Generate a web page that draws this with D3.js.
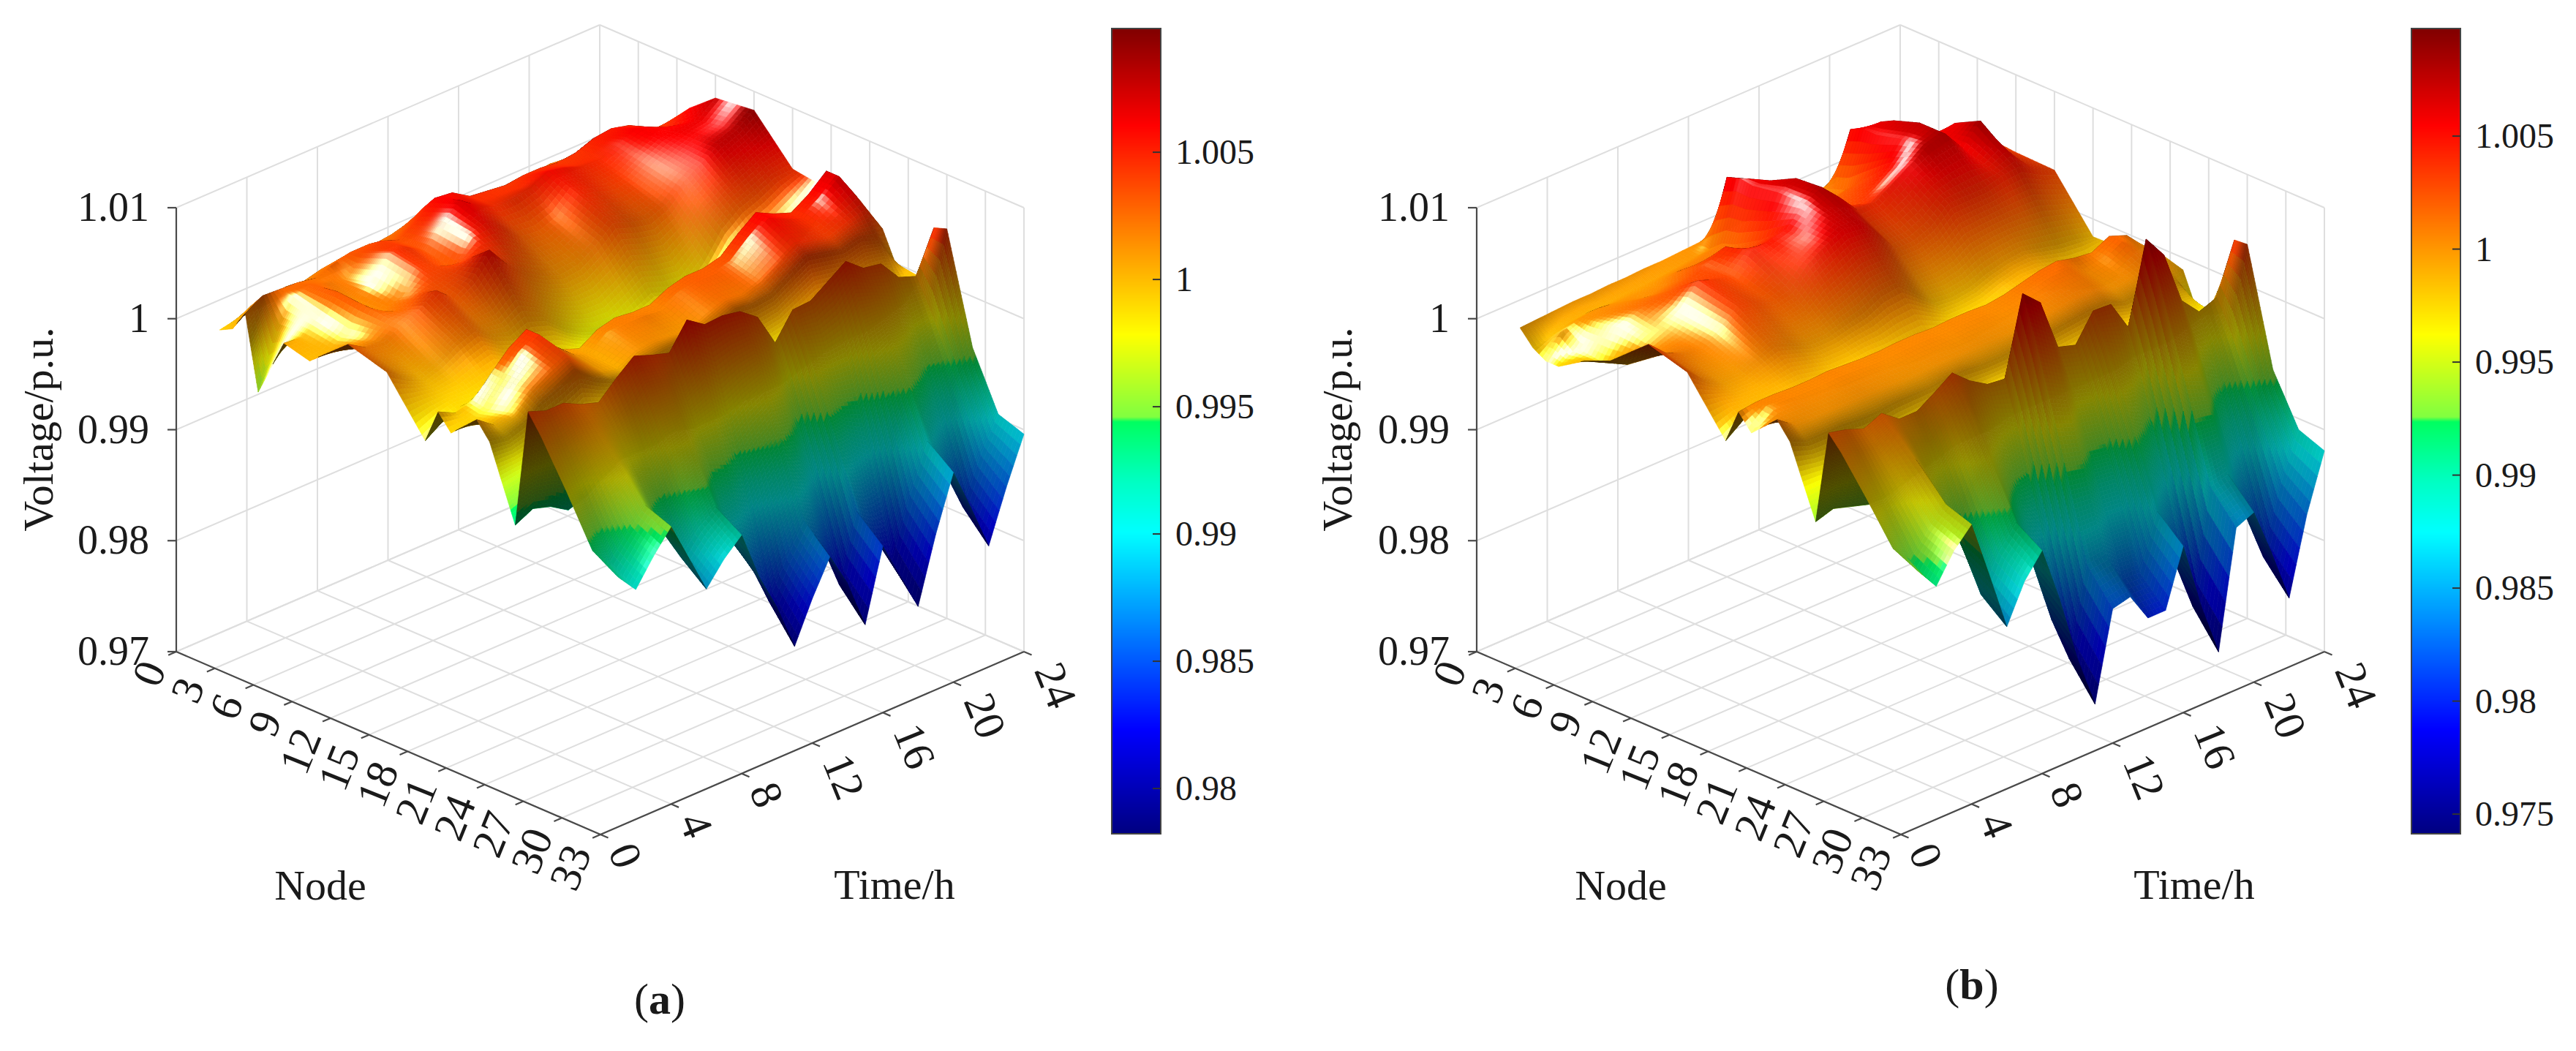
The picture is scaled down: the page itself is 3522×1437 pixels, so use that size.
<!DOCTYPE html>
<html>
<head>
<meta charset="utf-8">
<script src="https://d3js.org/d3.v7.min.js"></script>
<style>
  html, body { margin: 0; background: #fff; }
  text { font-family: "Liberation Serif", serif; fill: #1a1a1a; }
</style>
</head>
<body>
<div id="chart"></div>
<script>
// Axis values
const nodeTicks = [0, 3, 6, 9, 12, 15, 18, 21, 24, 27, 30, 33];
const timeTicks = [0, 4, 8, 12, 16, 20, 24];
const voltTicks = [0.97, 0.98, 0.99, 1, 1.01];
const nodes = [2, 3, 4, 5, 7, 9, 12, 15, 18, 19, 20, 22, 23, 25, 26, 27, 29, 31, 33];
const hours = d3.range(1, 25);

// Colour bars
const barTicksA = [0.98, 0.985, 0.99, 0.995, 1, 1.005];
const barTicksB = [0.975, 0.98, 0.985, 0.99, 0.995, 1, 1.005];
const barRangeA = [0.97822, 1.00986];
const barRangeB = [0.97413, 1.00976];

// Voltage (p.u. x 10000), one row per node, one column per hour
const voltA = [
  [9993, 9996, 9997, 9998, 9999, 9999, 10000, 10000, 10000, 10001, 10001, 10001, 10001, 10001, 10000, 10000, 10000, 10000, 9999, 9999, 9999, 9999, 9998, 9998],
  [9999, 10012, 10014, 10016, 10014, 10018, 10020, 10018, 10020, 10022, 10026, 10024, 10020, 10018, 10016, 10018, 10020, 10022, 10024, 10022, 10020, 10016, 10006, 10000],
  [10018, 10027, 10026, 10025, 10022, 10028, 10032, 10032, 10025, 10032, 10043, 10040, 10034, 10032, 10030, 10028, 10030, 10032, 10030, 10034, 10036, 10030, 10015, 10020],
  [9952, 10000, 10024, 10028, 10022, 10020, 10036, 10040, 10034, 10044, 10058, 10056, 10046, 10044, 10042, 10044, 10044, 10042, 10044, 10050, 10052, 10048, 10035, 10035],
  [10006, 10004, 10016, 10032, 10014, 10026, 10046, 10044, 10034, 10054, 10066, 10054, 10046, 10046, 10050, 10058, 10054, 10048, 10048, 10056, 10062, 10056, 10050, 10060],
  [10000, 10002, 10010, 10030, 10016, 10022, 10042, 10038, 10030, 10052, 10056, 10044, 10030, 10028, 10034, 10050, 10046, 10040, 10042, 10052, 10060, 10064, 10066, 10079],
  [10030, 10020, 10018, 10026, 10034, 10044, 10030, 10040, 10060, 10040, 10026, 10016, 10010, 10012, 10022, 10036, 10030, 10026, 10032, 10046, 10056, 10066, 10072, 10083],
  [10020, 10008, 10000, 10006, 10016, 10022, 10010, 10004, 10010, 10004, 9990, 9980, 9974, 9972, 9980, 9988, 9982, 9980, 9995, 10018, 10030, 10036, 10044, 10045],
  [9973, 9984, 9990, 9986, 9986, 9988, 9980, 9972, 9970, 9968, 9964, 9962, 9960, 9960, 9964, 9968, 9966, 9964, 9970, 9985, 9996, 10004, 10016, 10040],
  [10004, 9996, 10000, 10018, 10034, 10044, 10026, 10012, 10006, 10016, 10020, 10018, 10018, 10026, 10030, 10030, 10034, 10048, 10060, 10052, 10046, 10056, 10070, 10051],
  [9990, 9993, 9998, 10017, 10034, 10044, 10026, 10012, 10006, 10018, 10020, 10020, 10018, 10026, 10030, 10030, 10034, 10048, 10060, 10052, 10046, 10056, 10070, 10045],
  [10012, 10000, 10004, 10018, 10028, 10036, 10020, 10008, 10004, 10012, 10014, 10012, 10010, 10018, 10024, 10022, 10028, 10038, 10048, 10044, 10040, 10046, 10050, 10026],
  [9997, 9994, 10000, 10010, 10016, 10024, 10012, 10004, 10000, 10008, 10010, 10012, 10008, 10012, 10020, 10018, 10020, 10030, 10040, 10036, 10032, 10036, 10030, 10000],
  [9932, 9940, 9935, 9925, 9930, 9940, 9950, 9950, 9950, 9955, 9950, 9950, 9950, 9955, 9955, 9955, 9960, 9965, 9970, 9970, 9970, 9975, 9980, 9997],
  [10039, 10033, 10033, 10025, 10020, 10035, 10048, 10042, 10037, 10060, 10049, 10050, 10047, 10035, 10005, 10028, 10029, 10040, 10051, 10038, 10035, 10016, 10010, 10047],
  [10022, 10014, 10018, 10014, 10004, 10012, 10026, 10024, 10012, 10026, 10012, 10018, 10020, 10006, 9972, 10002, 9997, 10001, 10020, 10016, 10007, 9985, 9987, 10051],
  [9982, 9970, 9982, 9988, 9968, 9958, 9974, 9979, 9954, 9948, 9922, 9940, 9954, 9933, 9896, 9939, 9922, 9911, 9946, 9964, 9943, 9913, 9933, 9954],
  [9939, 9922, 9942, 9959, 9928, 9899, 9918, 9930, 9890, 9863, 9825, 9856, 9883, 9855, 9812, 9871, 9841, 9813, 9865, 9907, 9872, 9834, 9874, 9904],
  [9925, 9907, 9930, 9950, 9915, 9880, 9900, 9915, 9870, 9836, 9794, 9830, 9861, 9830, 9786, 9850, 9815, 9782, 9840, 9889, 9850, 9809, 9855, 9896],
];

const voltB = [
  [9995, 9996, 9997, 9998, 9998, 9999, 9999, 10000, 10000, 10001, 10002, 10003, 10003, 10003, 10002, 10002, 10002, 10003, 10003, 10003, 10002, 10001, 10000, 9999],
  [9982, 9985, 9990, 9992, 9992, 9994, 9995, 9996, 9998, 10000, 10002, 10060, 10050, 10030, 10012, 10010, 10006, 10008, 10055, 10050, 10020, 10010, 10005, 10010],
  [9975, 9995, 10000, 10002, 10000, 10000, 10000, 10004, 10006, 10008, 10012, 10064, 10056, 10040, 10020, 10012, 10010, 10012, 10060, 10060, 10034, 10020, 10010, 10015],
  [9975, 9985, 10002, 10006, 10006, 10003, 10006, 10014, 10012, 10012, 10016, 10062, 10060, 10046, 10026, 10016, 10020, 10024, 10060, 10066, 10044, 10036, 10025, 10025],
  [9990, 9982, 10006, 10014, 10018, 10020, 10024, 10030, 10038, 10024, 10030, 10066, 10072, 10056, 10036, 10026, 10034, 10046, 10066, 10074, 10056, 10060, 10036, 10032],
  [10000, 9990, 10002, 10010, 10020, 10038, 10032, 10028, 10044, 10046, 10050, 10066, 10074, 10058, 10040, 10040, 10050, 10060, 10070, 10074, 10054, 10072, 10040, 10030],
  [10030, 10015, 10008, 10006, 10016, 10030, 10026, 10020, 10024, 10040, 10050, 10058, 10056, 10040, 10020, 10020, 10026, 10040, 10040, 10040, 10044, 10046, 10036, 10029],
  [10020, 10005, 9996, 9996, 10002, 10008, 10002, 9996, 9996, 10000, 10004, 10012, 10014, 10000, 9986, 9984, 9986, 9992, 9996, 9998, 9994, 9990, 9988, 9984],
  [9973, 9985, 9986, 9984, 9982, 9980, 9978, 9976, 9976, 9976, 9972, 9970, 9970, 9968, 9968, 9972, 9974, 9980, 9984, 9980, 9972, 9966, 9966, 9985],
  [10004, 10006, 10006, 10005, 10005, 10006, 10005, 10004, 10004, 10005, 10005, 10004, 10005, 10005, 10004, 10006, 10010, 10014, 10016, 10012, 10010, 10018, 10012, 9995],
  [9990, 10006, 10006, 10005, 10005, 10006, 10005, 10004, 10004, 10005, 10005, 10004, 10005, 10005, 10004, 10006, 10010, 10014, 10014, 10004, 10008, 10018, 10006, 9996],
  [10012, 10000, 10000, 10000, 10000, 10000, 10000, 9999, 9999, 10000, 10000, 10000, 10000, 10000, 10000, 10002, 10004, 10006, 10006, 10000, 10002, 10006, 10000, 9989],
  [9997, 9990, 9990, 9990, 9988, 9988, 9990, 9990, 9990, 9992, 9992, 9990, 9990, 9992, 9992, 9994, 9996, 9998, 9998, 9992, 9994, 9996, 9990, 9960],
  [9935, 9940, 9935, 9930, 9930, 9935, 9940, 9945, 9950, 9950, 9950, 9955, 9955, 9955, 9955, 9955, 9955, 9955, 9960, 9960, 9960, 9965, 9970, 9965],
  [10020, 10016, 10010, 10017, 10005, 10005, 10015, 10026, 10012, 10002, 10000, 10070, 10055, 10008, 10003, 10027, 10026, 9998, 10071, 10050, 10002, 9985, 9991, 10036],
  [10007, 10001, 9999, 10007, 9990, 9982, 9996, 10008, 9990, 9971, 9961, 10033, 10021, 9977, 9972, 10001, 9991, 9960, 10037, 10020, 9973, 9951, 9967, 10037],
  [9975, 9963, 9972, 9985, 9952, 9925, 9947, 9963, 9931, 9896, 9871, 9945, 9940, 9903, 9901, 9938, 9908, 9869, 9958, 9951, 9906, 9873, 9910, 9934],
  [9941, 9923, 9944, 9960, 9913, 9865, 9896, 9916, 9869, 9815, 9773, 9851, 9853, 9824, 9823, 9871, 9818, 9772, 9873, 9877, 9833, 9789, 9849, 9890],
  [9930, 9910, 9935, 9952, 9900, 9846, 9880, 9901, 9850, 9790, 9742, 9821, 9825, 9799, 9799, 9850, 9790, 9741, 9846, 9853, 9810, 9762, 9830, 9881],
];

// Shared jet-like colour map (note the step just under the middle, as in the figure)
const jet = d3.scaleLinear()
  .domain([0, 0.13, 0.375, 0.44, 0.512, 0.518, 0.62, 0.75, 0.88, 1])
  .range(['#000080', '#0000ff', '#00ffff', '#00ffc0', '#00ff60', '#80ff40', '#ffff00', '#ff8000', '#ff0000', '#800000'])
  .clamp(true);

const norm3 = (v) => {
  const l = Math.hypot(v[0], v[1], v[2]) || 1;
  return [v[0] / l, v[1] / l, v[2] / l];
};
const dot3 = (a, b) => a[0] * b[0] + a[1] * b[1] + a[2] * b[2];

const svg = d3.select('#chart').append('svg')
  .attr('width', 3522)
  .attr('height', 1437)
  .style('display', 'block');

class SurfacePanel {
  constructor(_config, _data) {
    this.config = {
      originX: _config.originX,
      barX: _config.barX,
      barTicks: _config.barTicks,
      barRange: _config.barRange,
      yLabelX: _config.yLabelX,
      nodeLabelX: _config.nodeLabelX,
      timeLabelX: _config.timeLabelX,
      panelLabel: _config.panelLabel,
      panelLabelX: _config.panelLabelX,
      panelLabelY: _config.panelLabelY,
    };
    this.data = _data;
    this.initVis();
  }

  initVis() {
    const vis = this;
    vis.g = svg.append('g');

    // Axes of the box, all mapped to 0..1 and then to screen directions
    vis.nodeScale = d3.scaleLinear().domain([0, 33]).range([0, 1]);
    vis.timeScale = d3.scaleLinear().domain([0, 24]).range([0, 1]);
    vis.voltScale = d3.scaleLinear().domain([0.97, 1.01]).range([0, 1]);
    vis.barScale = d3.scaleLinear().domain(vis.config.barRange).range([1140, 39]);
    vis.colorFrac = d3.scaleLinear().domain(vis.config.barRange).range([0, 1]);

    vis.project = (n, t, v) => {
      const a = vis.nodeScale(n);
      const b = vis.timeScale(t);
      return [
        vis.config.originX + a * 580 + b * 579,
        891 + a * 250 - b * 250 - vis.voltScale(v) * 607,
      ];
    };

    vis.renderGrid();
    vis.renderSurface();
    vis.renderAxes();
    vis.renderBar();
  }

  renderGrid() {
    const vis = this;
    const segs = [];
    nodeTicks.forEach((n) => {
      segs.push([[n, 0, 0.97], [n, 24, 0.97]]);
      segs.push([[n, 24, 0.97], [n, 24, 1.01]]);
    });
    timeTicks.forEach((t) => {
      segs.push([[0, t, 0.97], [33, t, 0.97]]);
      if (t > 0) segs.push([[0, t, 0.97], [0, t, 1.01]]);
    });
    voltTicks.forEach((v) => {
      segs.push([[0, 0, v], [0, 24, v]]);
      segs.push([[0, 24, v], [33, 24, v]]);
    });
    vis.g.append('g').selectAll('line').data(segs).join('line')
      .attr('x1', (d) => vis.project(...d[0])[0])
      .attr('y1', (d) => vis.project(...d[0])[1])
      .attr('x2', (d) => vis.project(...d[1])[0])
      .attr('y2', (d) => vis.project(...d[1])[1])
      .attr('stroke', '#dedede')
      .attr('stroke-width', 2);
  }

  renderSurface() {
    const vis = this;
    const zAspect = 0.82;
    const rows = vis.data.map((r) => r.map((d) => d / 10000));

    // Height and slope in box units
    const X = nodes.map((n) => vis.nodeScale(n));
    const Y = hours.map((t) => vis.timeScale(t));
    const Z = rows.map((r) => r.map((v) => zAspect * vis.voltScale(v)));

    // Vertex normals from central differences, with a hard crease on crests across nodes
    const normals = Z.map((r, i) => r.map((z, j) => {
      const i0 = Math.max(i - 1, 0);
      const i1 = Math.min(i + 1, Z.length - 1);
      const j0 = Math.max(j - 1, 0);
      const j1 = Math.min(j + 1, r.length - 1);
      let dx = (Z[i1][j] - Z[i0][j]) / (X[i1] - X[i0]);
      if (i > 0 && i < Z.length - 1) {
        const back = (z - Z[i0][j]) / (X[i] - X[i0]);
        const front = (Z[i1][j] - z) / (X[i1] - X[i]);
        if (back > 0 && front < 0) dx = front;
      }
      const dy = (Z[i][j1] - Z[i][j0]) / (Y[j1] - Y[j0]);
      return norm3([-dx, -dy, 1]);
    }));

    const light = norm3([-0.5, -0.2, 0.84]);
    const view = norm3([0.638, -0.638, 0.43]);
    const half = norm3([0.12, -0.55, 0.83]);

    const quads = [];
    // Painter's order: far node rows first, late hours first
    for (let i = 0; i < nodes.length - 1; i += 1) {
      const span = nodes[i + 1] - nodes[i];
      const drop = d3.max(rows[i], (v, j) => Math.abs(rows[i + 1][j] - v));
      const su = Math.max(3 * span, 3, Math.ceil(drop / 0.0004));
      for (let j = hours.length - 2; j >= 0; j -= 1) {
        const sv = 5;
        const vAt = (u, w) => d3.interpolate(
          d3.interpolate(rows[i][j], rows[i + 1][j])(u),
          d3.interpolate(rows[i][j + 1], rows[i + 1][j + 1])(u),
        )(w);
        for (let a = 0; a < su; a += 1) {
          for (let b = sv - 1; b >= 0; b -= 1) {
            const u0 = a / su;
            const u1 = (a + 1) / su;
            const w0 = b / sv;
            const w1 = (b + 1) / sv;
            const uc = (u0 + u1) / 2;
            const wc = (w0 + w1) / 2;
            const corner = (u, w) => vis.project(nodes[i] + span * u, hours[j] + w, vAt(u, w));
            // Smoothed normal at the patch centre
            const blend = [0, 1, 2].map((k) => (
              (1 - uc) * (1 - wc) * normals[i][j][k]
              + uc * (1 - wc) * normals[i + 1][j][k]
              + (1 - uc) * wc * normals[i][j + 1][k]
              + uc * wc * normals[i + 1][j + 1][k]
            ));
            const nrm = norm3(blend);
            // True facing of the patch, to spot the underside
            const dzdu = zAspect * (vis.voltScale(vAt(u1, wc)) - vis.voltScale(vAt(u0, wc)))
              / ((X[i + 1] - X[i]) * (u1 - u0));
            const dzdw = zAspect * (vis.voltScale(vAt(uc, w1)) - vis.voltScale(vAt(uc, w0)))
              / ((Y[j + 1] - Y[j]) * (w1 - w0));
            const facing = dot3(norm3([-dzdu, -dzdw, 1]), view);

            const base = d3.rgb(jet(vis.colorFrac(vAt(uc, wc))));
            let lit = Math.min(1, 0.52 + 0.6 * Math.max(dot3(nrm, light), 0));
            let spec = 0.95 * Math.max(dot3(nrm, half), 0) ** 50;
            if (facing < 0) {
              lit = 0.3;
              spec = 0;
            }
            const fill = d3.rgb(
              Math.min(255, base.r * lit + 255 * spec),
              Math.min(255, base.g * lit + 255 * spec),
              Math.min(255, base.b * lit + 255 * spec),
            ).formatHex();
            quads.push({
              pts: [corner(u0, w0), corner(u1, w0), corner(u1, w1), corner(u0, w1)],
              fill,
            });
          }
        }
      }
    }

    vis.g.append('g').selectAll('path').data(quads).join('path')
      .attr('d', (d) => `M${d.pts.map((p) => `${p[0].toFixed(1)},${p[1].toFixed(1)}`).join('L')}Z`)
      .attr('fill', (d) => d.fill)
      .attr('stroke', (d) => d.fill)
      .attr('stroke-width', 0.7);
  }

  renderAxes() {
    const vis = this;
    const axisColor = '#4a4a4a';
    const axes = vis.g.append('g');
    const axisLine = (a, b) => axes.append('line')
      .attr('x1', a[0]).attr('y1', a[1])
      .attr('x2', b[0]).attr('y2', b[1])
      .attr('stroke', axisColor)
      .attr('stroke-width', 2.2);

    axisLine(vis.project(0, 0, 0.97), vis.project(0, 0, 1.01));
    axisLine(vis.project(0, 0, 0.97), vis.project(33, 0, 0.97));
    axisLine(vis.project(33, 0, 0.97), vis.project(33, 24, 0.97));

    // z ticks and labels
    voltTicks.forEach((v) => {
      const p = vis.project(0, 0, v);
      axisLine(p, [p[0] - 12, p[1]]);
      axes.append('text')
        .attr('x', p[0] - 37)
        .attr('y', p[1] + 18)
        .attr('text-anchor', 'end')
        .attr('font-size', 56)
        .text(v);
    });

    nodeTicks.forEach((n) => {
      const p = vis.project(n, 0, 0.97);
      const q = vis.project(n, 0.45, 0.97);
      axisLine(p, [p[0] - (q[0] - p[0]), p[1] - (q[1] - p[1])]);
      const wide = n > 9;
      const lx = p[0] + (wide ? -41 : -37);
      const ly = p[1] + (wide ? 45 : 30);
      axes.append('text')
        .attr('transform', `translate(${lx},${ly}) rotate(-68)`)
        .attr('text-anchor', 'middle')
        .attr('dy', '0.33em')
        .attr('font-size', 60)
        .text(n);
    });

    timeTicks.forEach((t) => {
      const p = vis.project(33, t, 0.97);
      const q = vis.project(32.4, t, 0.97);
      axisLine(p, [p[0] - (q[0] - p[0]), p[1] - (q[1] - p[1])]);
      const wide = t > 9;
      const lx = p[0] + (wide ? 43 : 34);
      const ly = p[1] + (wide ? 46 : 29);
      axes.append('text')
        .attr('transform', `translate(${lx},${ly}) rotate(68)`)
        .attr('text-anchor', 'middle')
        .attr('dy', '0.33em')
        .attr('font-size', 60)
        .text(t);
    });

    axes.append('text')
      .attr('transform', `translate(${vis.config.yLabelX},587) rotate(-90)`)
      .attr('text-anchor', 'middle')
      .attr('font-size', 58)
      .text('Voltage/p.u.');
    axes.append('text')
      .attr('x', vis.config.nodeLabelX)
      .attr('y', 1230)
      .attr('text-anchor', 'middle')
      .attr('font-size', 58)
      .text('Node');
    axes.append('text')
      .attr('x', vis.config.timeLabelX)
      .attr('y', 1229)
      .attr('text-anchor', 'middle')
      .attr('font-size', 58)
      .text('Time/h');

    const tag = axes.append('text')
      .attr('x', vis.config.panelLabelX)
      .attr('y', vis.config.panelLabelY)
      .attr('text-anchor', 'middle')
      .attr('font-size', 60);
    tag.append('tspan').text('(');
    tag.append('tspan').attr('font-weight', 'bold').text(vis.config.panelLabel);
    tag.append('tspan').text(')');
  }

  renderBar() {
    const vis = this;
    const x = vis.config.barX;
    const w = 67;
    const bar = vis.g.append('g');
    bar.selectAll('rect.band').data(d3.range(39, 1140)).join('rect')
      .attr('class', 'band')
      .attr('x', x)
      .attr('y', (d) => d)
      .attr('width', w)
      .attr('height', 1.5)
      .attr('fill', (d) => jet(vis.colorFrac(vis.barScale.invert(d))));
    bar.append('rect')
      .attr('x', x).attr('y', 39).attr('width', w).attr('height', 1101)
      .attr('fill', 'none')
      .attr('stroke', '#444')
      .attr('stroke-width', 2);
    vis.config.barTicks.forEach((v) => {
      const y = vis.barScale(v);
      bar.append('line')
        .attr('x1', x + w - 11).attr('x2', x + w)
        .attr('y1', y).attr('y2', y)
        .attr('stroke', '#333')
        .attr('stroke-width', 2);
      bar.append('text')
        .attr('x', x + w + 20)
        .attr('y', y + 16)
        .attr('font-size', 48)
        .text(v);
    });
  }
}

new SurfacePanel({
  originX: 241,
  barX: 1520,
  barTicks: barTicksA,
  barRange: barRangeA,
  yLabelX: 72,
  nodeLabelX: 438,
  timeLabelX: 1223,
  panelLabel: 'a',
  panelLabelX: 902,
  panelLabelY: 1386,
}, voltA);

new SurfacePanel({
  originX: 2019,
  barX: 3297,
  barTicks: barTicksB,
  barRange: barRangeB,
  yLabelX: 1848,
  nodeLabelX: 2216,
  timeLabelX: 3000,
  panelLabel: 'b',
  panelLabelX: 2696,
  panelLabelY: 1366,
}, voltB);
</script>
</body>
</html>
